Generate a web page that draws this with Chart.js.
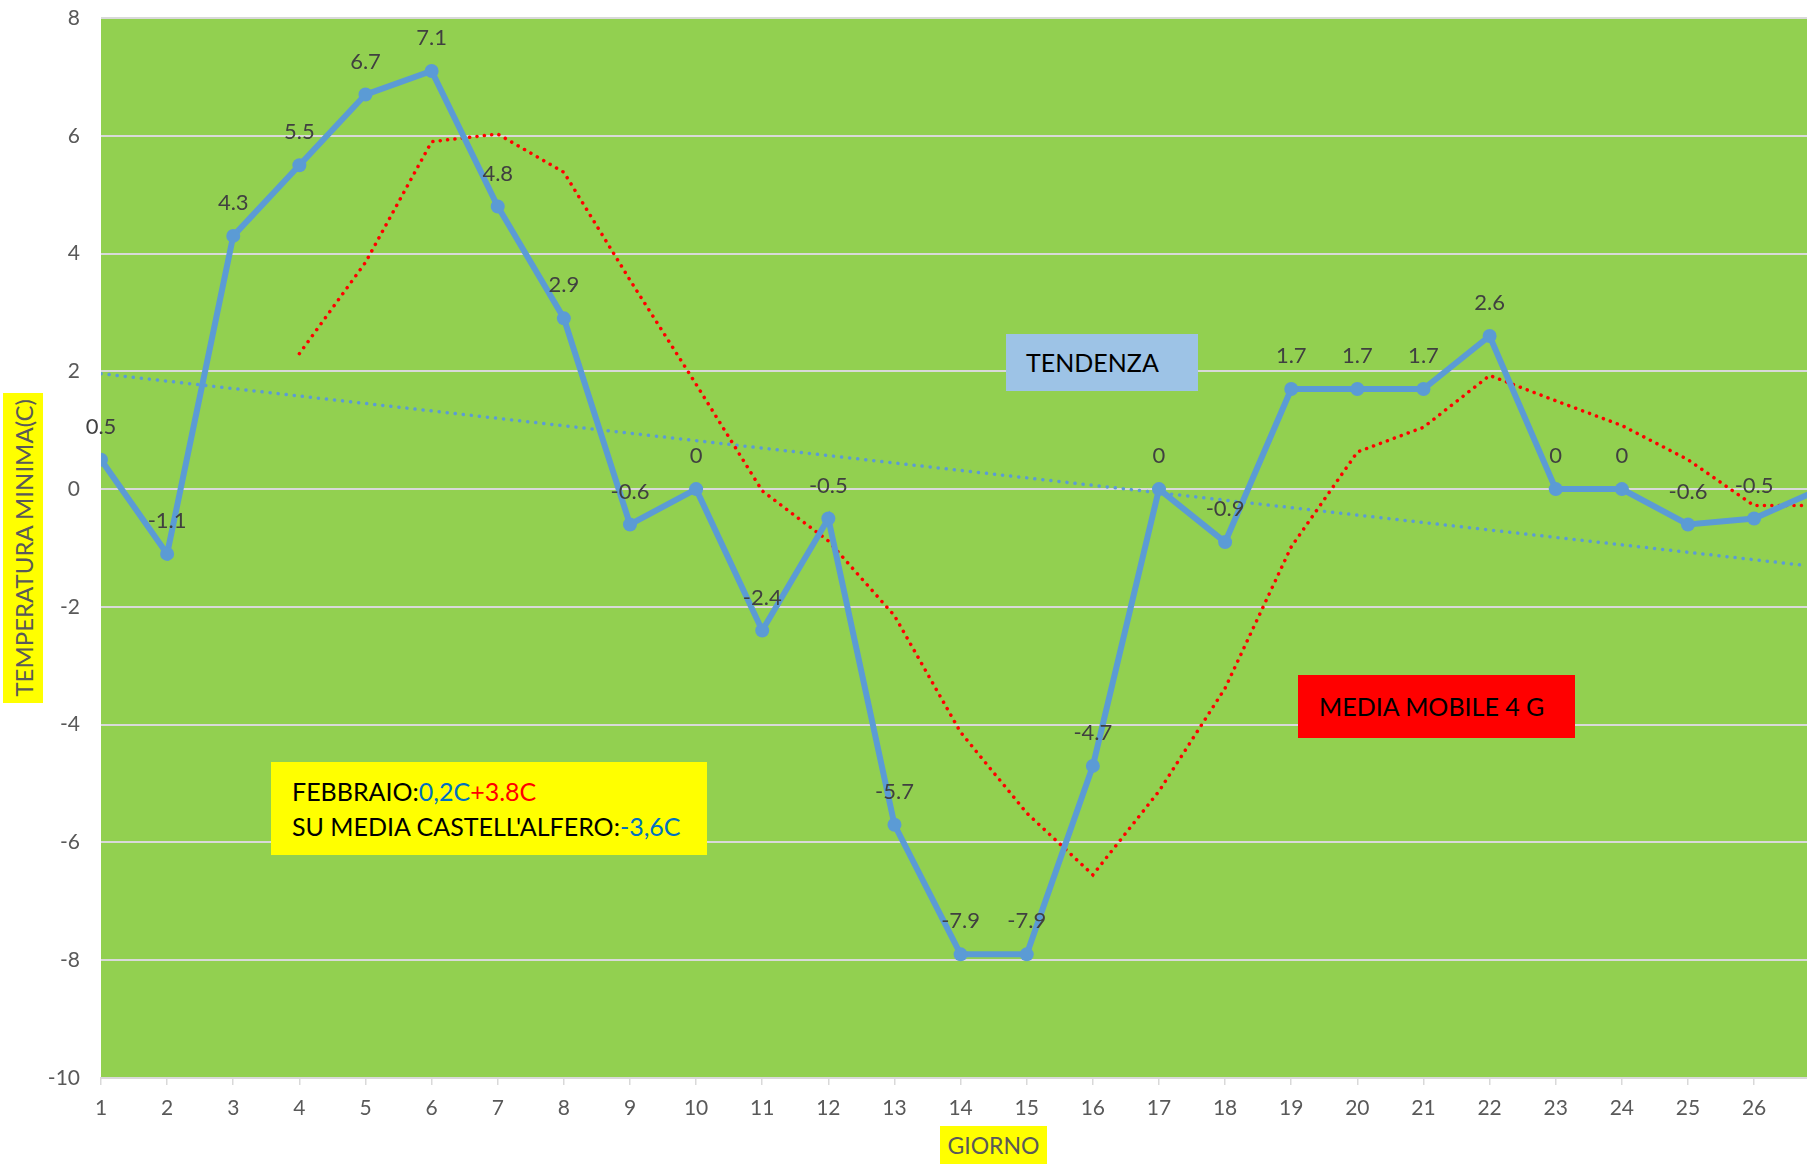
<!DOCTYPE html>
<html>
<head>
<meta charset="utf-8">
<title>Temperatura minima - Febbraio</title>
<script src="https://cdn.jsdelivr.net/npm/chart.js@4/dist/chart.umd.min.js"></script>
<style>
  html, body { margin: 0; padding: 0; background: #fff; }
  #wrap { position: relative; width: 1807px; height: 1164px; overflow: hidden; font-family: Lato, "Noto Sans", sans-serif; }
  #chartBox { position: absolute; left: 0; top: 0; width: 1807px; height: 1164px; }
  .note { position: absolute; box-sizing: border-box; color: #000; white-space: nowrap; }
  #tendenza { left: 1006px; top: 334px; width: 192px; height: 57px; background: #9DC3E6;
              font-size: 25px; line-height: 57px; padding-left: 20px; }
  #media { left: 1298px; top: 675px; width: 277px; height: 63px; background: #FF0000;
           font-size: 25px; line-height: 63px; padding-left: 21px; }
  #febbraio { left: 271px; top: 762px; width: 436px; height: 93px; background: #FFFF00;
              font-size: 25px; line-height: 35px; padding: 12px 0 0 21px; }
  .blu { color: #0070C0; }
  .rosso { color: #FF0000; }
  #ytitle { left: 3px; top: 393px; width: 40px; height: 310px; background: #FFFF00; color: #595959;
            font-size: 24px; display: flex; align-items: center; justify-content: center; }
  #ytitle span { writing-mode: vertical-rl; transform: rotate(180deg); }
  #xtitle { left: 940px; top: 1126px; width: 107px; height: 38px; background: #FFFF00; color: #595959;
            font-size: 23px; line-height: 38px; text-align: center; }
</style>
</head>
<body>
<div id="wrap">
  <div id="chartBox"><canvas id="myChart"></canvas></div>
  <div class="note" id="tendenza">TENDENZA</div>
  <div class="note" id="media">MEDIA MOBILE 4 G</div>
  <div class="note" id="febbraio">FEBBRAIO:<span class="blu">0,2C</span><span class="rosso">+3.8C</span><br>SU MEDIA CASTELL'ALFERO:<span class="blu">-3,6C</span></div>
  <div class="note" id="ytitle"><span>TEMPERATURA MINIMA(C)</span></div>
  <div class="note" id="xtitle">GIORNO</div>
</div>
<script>
// giorni di febbraio (il grafico originale e' tagliato poco dopo il 26)
const days = [1, 2, 3, 4, 5, 6, 7, 8, 9, 10, 11, 12, 13, 14, 15, 16, 17, 18, 19, 20, 21, 22, 23, 24, 25, 26, 27];
const tempMin = [0.5, -1.1, 4.3, 5.5, 6.7, 7.1, 4.8, 2.9, -0.6, 0, -2.4, -0.5, -5.7, -7.9, -7.9, -4.7, 0, -0.9, 1.7, 1.7, 1.7, 2.6, 0, 0, -0.6, -0.5, 0];

// media mobile 4 giorni (parte dal giorno 4)
const mediaDays = [4, 5, 6, 7, 8, 9, 10, 11, 12, 13, 14, 15, 16, 17, 18, 19, 20, 21, 22, 23, 24, 25, 26, 27];
const mediaMobile = [2.3, 3.85, 5.9, 6.03, 5.38, 3.55, 1.78, -0.03, -0.88, -2.15, -4.13, -5.5, -6.55, -5.13, -3.38, -0.98, 0.63, 1.05, 1.93, 1.5, 1.08, 0.5, -0.28, -0.28];

// linea di tendenza, estremi
const trendDays = [1, 26.8];
const trendValues = [1.96, -1.3];

const yTicks = { min: -10, max: 8, step: 2 };
const xRange = { min: 1, max: 26.8 };

const BLUE = "#5B9BD5";

const toPoints = (xs, ys) => xs.map((x, i) => ({ x: x, y: ys[i] }));

// sfondo verde dell'area del grafico
const plotBg = {
  id: "plotBg",
  beforeDraw(chart) {
    const { ctx, chartArea: a } = chart;
    ctx.save();
    ctx.fillStyle = "#92D050";
    ctx.fillRect(a.left, a.top, a.right - a.left, a.bottom - a.top);
    ctx.restore();
  }
};

// etichette sopra i punti
const pointLabels = {
  id: "pointLabels",
  afterDatasetsDraw(chart) {
    const { ctx, chartArea: a } = chart;
    const meta = chart.getDatasetMeta(0);
    ctx.save();
    ctx.font = "22px Lato";
    ctx.fillStyle = "#404040";
    ctx.textAlign = "center";
    ctx.textBaseline = "middle";
    meta.data.forEach((pt, i) => {
      if (pt.x > a.right) return;
      ctx.fillText(String(tempMin[i]), pt.x, pt.y - 33);
    });
    ctx.restore();
  }
};

function draw() {
  const ctx = document.getElementById("myChart");
  new Chart(ctx, {
    type: "line",
    data: {
      datasets: [
        {
          label: "Temperatura minima",
          data: toPoints(days, tempMin),
          borderColor: BLUE,
          backgroundColor: BLUE,
          borderWidth: 6,
          pointRadius: 7,
          pointBorderWidth: 0,
          pointBackgroundColor: BLUE,
          tension: 0,
          order: 0
        },
        {
          label: "Media mobile 4 G",
          data: toPoints(mediaDays, mediaMobile),
          borderColor: "#FF0000",
          borderWidth: 3.5,
          borderDash: [0.1, 7.3],
          borderCapStyle: "round",
          pointRadius: 0,
          tension: 0,
          order: 1
        },
        {
          label: "Tendenza",
          data: toPoints(trendDays, trendValues),
          borderColor: BLUE,
          borderWidth: 3.5,
          borderDash: [0.1, 8],
          borderCapStyle: "round",
          pointRadius: 0,
          order: 2
        }
      ]
    },
    options: {
      responsive: true,
      maintainAspectRatio: false,
      animation: false,
      events: [],
      layout: { autoPadding: false, padding: { top: 18, left: 0, right: 0, bottom: 0 } },
      plugins: {
        legend: { display: false },
        tooltip: { enabled: false }
      },
      scales: {
        x: {
          type: "linear",
          min: xRange.min,
          max: xRange.max,
          afterFit: (s) => { s.height = 86; s.paddingLeft = 0; s.paddingRight = 0; },
          ticks: {
            stepSize: 1,
            includeBounds: false,
            color: "#595959",
            font: { family: "Lato", size: 21 },
            padding: 11
          },
          grid: {
            drawOnChartArea: false,
            drawTicks: true,
            tickLength: 7,
            color: "#D9D9D9",
            lineWidth: 1.5
          },
          border: { display: true, color: "#D9D9D9", width: 2 }
        },
        y: {
          min: yTicks.min,
          max: yTicks.max,
          afterFit: (s) => { s.width = 101; s.paddingTop = 12; s.paddingBottom = 12; },
          ticks: {
            stepSize: yTicks.step,
            color: "#595959",
            font: { family: "Lato", size: 21 },
            padding: 21
          },
          grid: {
            color: "#D9D9D9",
            lineWidth: 2,
            drawTicks: false
          },
          border: { display: false }
        }
      }
    },
    plugins: [plotBg, pointLabels]
  });
}

if (document.fonts && document.fonts.load) {
  document.fonts.load("21px Lato").then(draw, draw);
} else {
  draw();
}
</script>
</body>
</html>
